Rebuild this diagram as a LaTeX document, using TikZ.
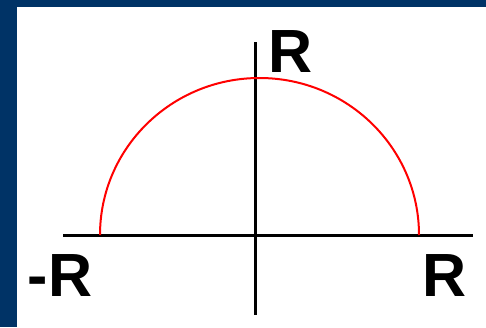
\documentclass[tikz,border=0pt]{standalone}
\usepackage{fontspec}
\setmainfont{Liberation Sans}
\definecolor{slideNavy}{RGB}{0,51,102}
\usetikzlibrary{positioning}

\begin{document}
\begin{tikzpicture}[x=1pt, y=-1pt,
    axis/.style={line width=3pt, black},
    halfcircle/.style={line width=2pt, red},
    lab/.style={font=\fontsize{61}{61}\selectfont\bfseries, inner sep=0pt,
                anchor=base west}
  ]
  \def\cy{235}
  % slide background
  \fill[slideNavy] (0,0) rectangle (486,327);
  \fill[white] (17,7) rectangle (486,327);
  \useasboundingbox (0,0) rectangle (486,327);

  \coordinate (xl) at (63,\cy);
  \coordinate (xr) at (473,\cy);
  \coordinate (yt) at (255,42);
  \coordinate (yb) at (255,315);
  \coordinate (al) at (100,\cy);

  \draw[axis] (xl) -- (xr);
  \draw[axis] (yt) -- (yb);
  \draw[halfcircle] (al) arc[start angle=180, end angle=0,
                             x radius=159.5pt, y radius=157pt];

  \node[lab] (rtop)   at (268,72)  {R};
  \node[lab] (rleft)  at (27.5,296) {-R};
  \node[lab] (rright) at (422,296) {R};
\end{tikzpicture}
\end{document}
